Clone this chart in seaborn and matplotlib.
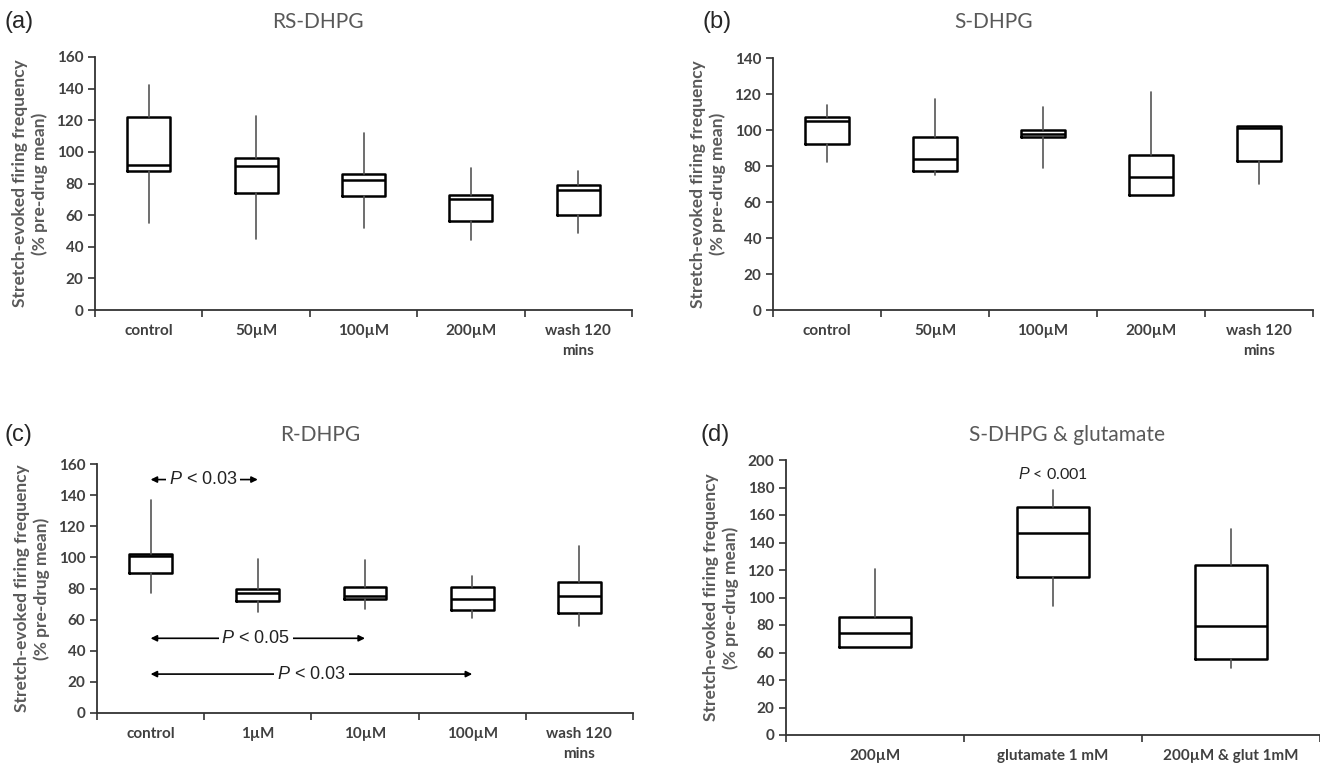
import numpy as np
import matplotlib.pyplot as plt
import seaborn as sns

# (a) RS-DHPG
rs_groups = ['control', '50µM', '100µM', '200µM', 'wash 120\nmins']
rs_lo = [55, 45, 52, 44, 49]
rs_q1 = [88, 74, 72, 56, 60]
rs_med = [92, 91, 82, 70, 76]
rs_q3 = [122, 96, 86, 73, 79]
rs_hi = [142, 123, 112, 90, 88]

# (b) S-DHPG
s_groups = ['control', '50µM', '100µM', '200µM', 'wash 120\nmins']
s_lo = [82, 75, 79, 64, 70]
s_q1 = [92, 77, 96, 64, 83]
s_med = [105, 84, 98, 74, 101]
s_q3 = [107, 96, 100, 86, 102]
s_hi = [114, 117, 113, 121, 102]

# (c) R-DHPG
r_groups = ['control', '1µM', '10µM', '100µM', 'wash 120\nmins']
r_lo = [77, 65, 67, 61, 56]
r_q1 = [90, 72, 73, 66, 64]
r_med = [101, 77, 75, 73, 75]
r_q3 = [102, 80, 81, 81, 84]
r_hi = [137, 99, 98, 88, 107]

# (d) S-DHPG & glutamate
g_groups = ['200µM', 'glutamate 1 mM', '200µM & glut 1mM']
g_lo = [64, 94, 49]
g_q1 = [64, 115, 55]
g_med = [74, 147, 79]
g_q3 = [86, 166, 124]
g_hi = [121, 178, 150]

sns.set_style("white")
plt.rcParams['font.family'] = ['Lato', 'DejaVu Sans']
plt.rcParams['mathtext.fontset'] = 'custom'
plt.rcParams['mathtext.it'] = 'Liberation Sans:italic'
plt.rcParams['mathtext.rm'] = 'Liberation Sans'

W, H = 1320, 767
fig = plt.figure(figsize=(W / 100, H / 100), dpi=100)

TICK_COL = '#404040'
TITLE_COL = '#595959'


def px_axes(x0, y0, x1, y1):
    return fig.add_axes([x0 / W, 1 - y1 / H, (x1 - x0) / W, (y1 - y0) / H])


def draw_panel(ax, groups, lo, q1, med, q3, hi, ymax, step):
    stats = [dict(whislo=a, q1=b, med=c, q3=d, whishi=e, fliers=[])
             for a, b, c, d, e in zip(lo, q1, med, q3, hi)]
    n = len(groups)
    ax.bxp(stats, positions=range(n), widths=0.4, showcaps=False, showfliers=False,
           manage_ticks=False,
           boxprops=dict(color='black', lw=1.8),
           medianprops=dict(color='black', lw=1.8),
           whiskerprops=dict(color='#555555', lw=1.2))
    ax.set_xlim(-0.5, n - 0.5)
    ax.set_ylim(0, ymax)
    ax.set_yticks(np.arange(0, ymax + 1, step))
    ax.set_xticks(np.arange(n + 1) - 0.5)
    ax.set_xticklabels([])
    ax.set_xticks(range(n), minor=True)
    ax.set_xticklabels(groups, minor=True)
    ax.tick_params(axis='x', which='major', direction='out', length=5, width=1.2,
                   color='#333333', bottom=True)
    ax.tick_params(axis='x', which='minor', length=0, pad=10, labelsize=11,
                   labelcolor=TICK_COL)
    ax.tick_params(axis='y', direction='out', length=5, width=1.2, color='#333333',
                   left=True, labelsize=11, labelcolor=TICK_COL)
    for lab in ax.get_xticklabels(minor=True) + ax.get_yticklabels():
        lab.set_fontweight('bold')
    for lab in ax.get_xticklabels(minor=True):
        lab.set_linespacing(1.6)
    sns.despine(ax=ax)
    for s in ['left', 'bottom']:
        ax.spines[s].set_color('#333333')
        ax.spines[s].set_linewidth(1.3)
    ax.set_ylabel('Stretch-evoked firing frequency\n(% pre-drug mean)',
                  fontsize=12.5, fontweight='bold', color='#5a5a5a', labelpad=6,
                  linespacing=1.25)


def fig_text(x, y, s, **kw):
    fig.text(x / W, 1 - y / H, s, **kw)


ax_a = px_axes(95, 57, 632, 310)
draw_panel(ax_a, rs_groups, rs_lo, rs_q1, rs_med, rs_q3, rs_hi, 160, 20)

ax_b = px_axes(773, 58, 1313, 310)
draw_panel(ax_b, s_groups, s_lo, s_q1, s_med, s_q3, s_hi, 140, 20)

ax_c = px_axes(97, 464, 633, 713)
draw_panel(ax_c, r_groups, r_lo, r_q1, r_med, r_q3, r_hi, 160, 20)

ax_d = px_axes(786, 460, 1320, 735)
draw_panel(ax_d, g_groups, g_lo, g_q1, g_med, g_q3, g_hi, 200, 20)

# significance arrows in (c)
for x_end, y, x_txt, label in [(1, 150, 0.49, '$P$ < 0.03'),
                               (2, 48, 0.98, '$P$ < 0.05'),
                               (3, 25, 1.5, '$P$ < 0.03')]:
    ax_c.annotate('', xy=(0, y), xytext=(x_end, y),
                  arrowprops=dict(arrowstyle='<|-|>', lw=1.2, color='black',
                                  mutation_scale=9, shrinkA=0, shrinkB=0))
    ax_c.text(x_txt, y, label, ha='center', va='center', fontsize=13,
              family='Liberation Sans', zorder=5, color='#222222',
              bbox=dict(fc='white', ec='none', pad=2))

ax_d.text(1, 190, '$P$ < 0.001', ha='center', va='center', fontsize=11.5, color='#222222')

# panel letters and titles
for x, y, s in [(4, 22, '(a)'), (702, 22, '(b)'), (4, 435, '(c)'), (700, 435, '(d)')]:
    fig_text(x, y, s, fontsize=17, family='Liberation Sans', va='center', ha='left')

for x, y, s in [(318, 22, 'RS-DHPG'), (994, 22, 'S-DHPG'), (320, 435, 'R-DHPG'),
                (1067, 435, 'S-DHPG & glutamate')]:
    fig_text(x, y, s, fontsize=15, color=TITLE_COL, va='center', ha='center')

fig.savefig('out.png', dpi=100, facecolor='white')
